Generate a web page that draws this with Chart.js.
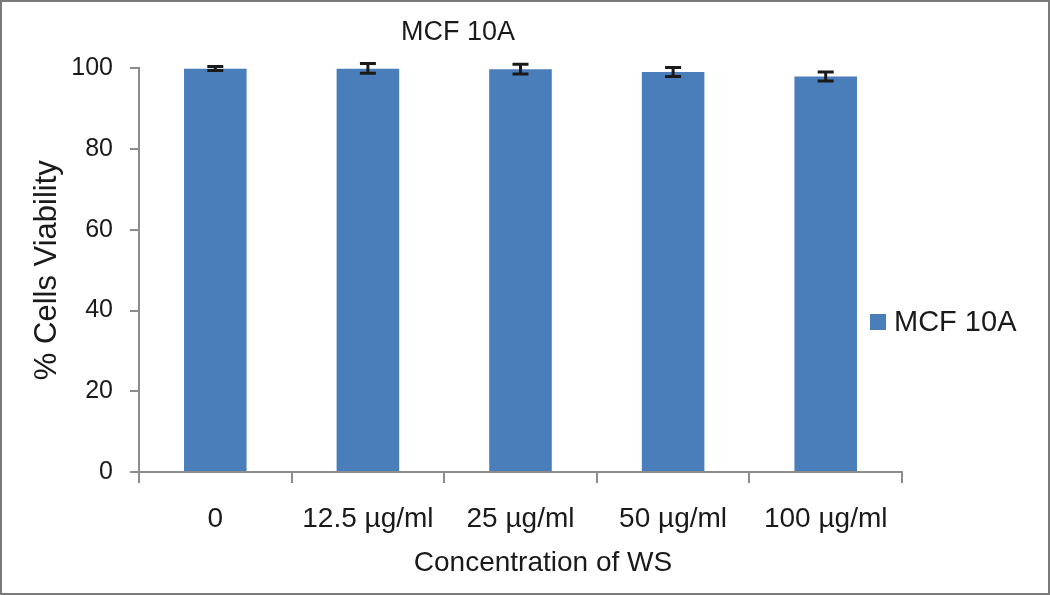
<!DOCTYPE html>
<html>
<head>
<meta charset="utf-8">
<script src="https://cdn.jsdelivr.net/npm/chart.js@4.4.0/dist/chart.umd.min.js"></script>
<style>
html,body{margin:0;padding:0;background:#fff;}
#wrap{width:1050px;height:595px;position:relative;}
</style>
</head>
<body>
<div id="wrap"><canvas id="c" width="1050" height="595"></canvas></div>
<script>
const categories = ["0", "12.5 µg/ml", "25 µg/ml", "50 µg/ml", "100 µg/ml"];
const viability = [100, 100, 99.8, 99.1, 98.0];
const errors = [0.5, 1.2, 1.2, 1.1, 1.1];
const seriesName = "MCF 10A";
const chartTitle = "MCF 10A";
const xTitle = "Concentration of WS";
const yTitle = "% Cells Viability";
const yTicks = [0, 20, 40, 60, 80, 100];

const FONT = "'Liberation Sans', Arial, sans-serif";
const AXIS = "#8c8c8c";
const BAR = "#4a7ebb";
const TEXT = "#1a1a1a";

const borderPlugin = {
  id: 'outerBorder',
  beforeDraw(chart) {
    const ctx = chart.ctx;
    ctx.save();
    ctx.fillStyle = '#fff';
    ctx.fillRect(0, 0, chart.width, chart.height);
    ctx.strokeStyle = '#7a7a7a';
    ctx.lineWidth = 2;
    ctx.strokeRect(1, 1, chart.width - 2, chart.height - 2);
    ctx.restore();
  }
};

const errorBarPlugin = {
  id: 'errorBars',
  afterDatasetsDraw(chart) {
    const ctx = chart.ctx;
    const y = chart.scales.y;
    const meta = chart.getDatasetMeta(0);
    ctx.save();
    ctx.strokeStyle = TEXT;
    ctx.lineWidth = 3;
    meta.data.forEach((bar, i) => {
      const v = viability[i], e = errors[i];
      const x = bar.x;
      const yTop = y.getPixelForValue(v + e);
      const yBot = y.getPixelForValue(v - e);
      ctx.beginPath();
      ctx.moveTo(x, yTop); ctx.lineTo(x, yBot);
      ctx.moveTo(x - 8, yTop); ctx.lineTo(x + 8, yTop);
      ctx.moveTo(x - 8, yBot); ctx.lineTo(x + 8, yBot);
      ctx.stroke();
    });
    ctx.restore();
  }
};

const textPlugin = {
  id: 'sideLegendAndXTitle',
  afterDraw(chart) {
    const ctx = chart.ctx;
    const ds = chart.data.datasets[0];
    const cy = 322;
    ctx.save();
    ctx.fillStyle = ds.backgroundColor;
    ctx.fillRect(870, cy - 8, 16, 16);
    ctx.fillStyle = TEXT;
    ctx.font = "29px " + FONT;
    ctx.textBaseline = 'middle';
    ctx.textAlign = 'left';
    ctx.fillText(ds.label, 894, cy + 1);
    ctx.font = "28px " + FONT;
    ctx.textAlign = 'center';
    ctx.fillText(xTitle, 543, 563);
    ctx.restore();
  }
};

new Chart(document.getElementById('c'), {
  type: 'bar',
  data: {
    labels: categories,
    datasets: [{
      label: seriesName,
      data: viability,
      backgroundColor: BAR,
      borderWidth: 0,
      categoryPercentage: 0.41,
      barPercentage: 1.0
    }]
  },
  options: {
    responsive: false,
    animation: false,
    devicePixelRatio: 1,
    layout: { padding: { left: 14, right: 148, top: 0, bottom: 0 } },
    plugins: {
      legend: { display: false },
      tooltip: { enabled: false },
      title: {
        display: true,
        text: chartTitle,
        color: TEXT,
        font: { family: FONT, size: 27, weight: 'normal' },
        padding: { top: 16, bottom: 20 }
      }
    },
    scales: {
      x: {
        grid: { display: true, drawOnChartArea: false, drawTicks: true, tickLength: 11, color: AXIS, lineWidth: 2, offset: true },
        border: { display: true, color: AXIS, width: 2 },
        ticks: { color: TEXT, font: { family: FONT, size: 28 }, padding: 19, maxRotation: 0, autoSkip: false },
        title: { display: false },
        afterFit(scale) { scale.height = 123; }
      },
      y: {
        min: 0, max: 100,
        afterBuildTicks(scale) { scale.ticks = yTicks.map(v => ({ value: v })); },
        grid: { display: true, drawOnChartArea: false, drawTicks: true, tickLength: 9, color: AXIS, lineWidth: 2 },
        border: { display: true, color: AXIS, width: 2 },
        ticks: { color: TEXT, font: { family: FONT, size: 25 }, padding: 17 },
        title: { display: true, text: yTitle, color: TEXT, font: { family: FONT, size: 31 }, padding: { top: 15, bottom: 0 } },
        afterFit(scale) { scale.width = 125; }
      }
    }
  },
  plugins: [borderPlugin, errorBarPlugin, textPlugin]
});
</script>
</body>
</html>
